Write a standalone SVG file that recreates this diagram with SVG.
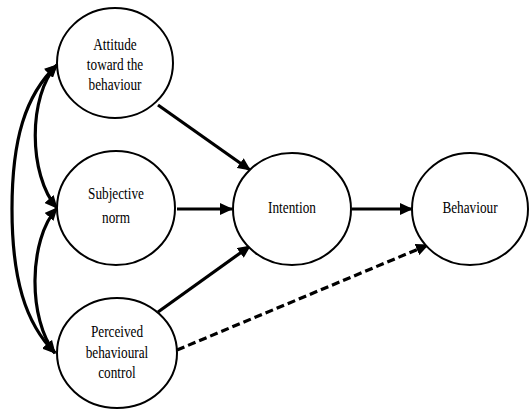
<svg xmlns="http://www.w3.org/2000/svg" width="529" height="410" viewBox="0 0 529 410">
<style>
.node ellipse{fill:#fff;stroke:#000;stroke-width:2}
.node text{font-family:'Liberation Serif','DejaVu Serif',serif;font-size:17px;text-anchor:middle;fill:#000}
.conn path{fill:none;stroke:#000;stroke-width:3.2}
.conn .dash{stroke-dasharray:8 4}
</style>
<defs>
<marker id="ah" markerUnits="userSpaceOnUse" markerWidth="14" markerHeight="12" refX="12" refY="6" orient="auto-start-reverse" viewBox="0 0 14 12">
<path d="M0,0 L13,6 L0,12 Z" fill="#000"/>
</marker>
</defs>
<rect width="529" height="410" fill="#fff"/>
<g class="conn" id="connectors">
<path d="M158,105 L250,170" marker-end="url(#ah)"/>
<path d="M177,209 L232,209" marker-end="url(#ah)"/>
<path d="M158,312 L250,246" marker-end="url(#ah)"/>
<path d="M352,209 L412,209" marker-end="url(#ah)"/>
<path class="dash" d="M177,350 L428,245" marker-end="url(#ah)"/>
<path d="M57,65 C28,95 28,175 57,208" marker-start="url(#ah)" marker-end="url(#ah)"/>
<path d="M57,208 C28,240 28,320 55,353" marker-start="url(#ah)" marker-end="url(#ah)"/>
<path d="M57,65 C25,95 12,140 12,209 C12,278 25,323 55,353" marker-start="url(#ah)" marker-end="url(#ah)"/>
</g>
<g class="node" id="attitude">
<ellipse cx="115" cy="63" rx="58" ry="55"/>
<text font-family="Liberation Serif, serif" transform="translate(115 50) scale(0.78 1)">Attitude</text>
<text font-family="Liberation Serif, serif" transform="translate(115 70) scale(0.78 1)">toward the</text>
<text font-family="Liberation Serif, serif" transform="translate(115 90) scale(0.78 1)">behaviour</text>
</g>
<g class="node" id="subjective">
<ellipse cx="116" cy="208" rx="59" ry="57"/>
<text font-family="Liberation Serif, serif" transform="translate(116 199) scale(0.78 1)">Subjective</text>
<text font-family="Liberation Serif, serif" transform="translate(116 223) scale(0.78 1)">norm</text>
</g>
<g class="node" id="perceived">
<ellipse cx="117" cy="353" rx="60" ry="55"/>
<text font-family="Liberation Serif, serif" transform="translate(117 337) scale(0.78 1)">Perceived</text>
<text font-family="Liberation Serif, serif" transform="translate(117 358) scale(0.78 1)">behavioural</text>
<text font-family="Liberation Serif, serif" transform="translate(117 378) scale(0.78 1)">control</text>
</g>
<g class="node" id="intention">
<ellipse cx="292" cy="209" rx="59" ry="56"/>
<text font-family="Liberation Serif, serif" transform="translate(292 213) scale(0.78 1)">Intention</text>
</g>
<g class="node" id="behaviour">
<ellipse cx="470" cy="209" rx="58" ry="56"/>
<text font-family="Liberation Serif, serif" transform="translate(470 213) scale(0.78 1)">Behaviour</text>
</g>
</svg>
